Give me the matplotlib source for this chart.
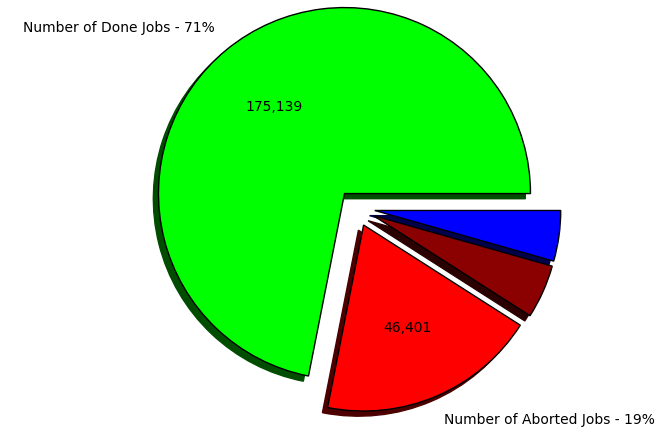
import matplotlib
matplotlib.use("Agg")
import matplotlib.pyplot as plt

# Job counts
job_types = ["Done", "Aborted", "Other", "Cancelled"]
job_counts = [175139, 46401, 11360, 10690]
labels = ["Number of Done Jobs - 71%", "Number of Aborted Jobs - 19%", "", ""]
colors = ["#00ff00", "#ff0000", "#8b0000", "#0000ff"]
explode = [0.1, 0.1, 0.1, 0.1]

total = sum(job_counts)


def show_count(pct):
    # only the big slices get their count printed
    if pct < 10:
        return ""
    return "{:,}".format(int(round(pct * total / 100.0)))


fig = plt.figure(figsize=(6.64, 4.29), dpi=100)
ax = fig.add_axes([0, 0, 1, 1])

wedges, texts, autotexts = ax.pie(
    job_counts,
    labels=labels,
    colors=colors,
    explode=explode,
    autopct=show_count,
    shadow={"ox": -0.02, "oy": -0.02, "shade": 0.7, "alpha": 1.0},
    startangle=0,
    wedgeprops={"edgecolor": "black", "linewidth": 1},
    textprops={"fontsize": 10},
)

# small nudges so the outer labels sit like the original
x, y = texts[0].get_position()
texts[0].set_position((x, y + 0.04))
x, y = texts[1].get_position()
texts[1].set_position((x, y - 0.039))

# pixel scale ~186 px per unit radius, centre placed as in the original
ax.set_xlim(-1.9156, 1.6543)
ax.set_ylim(-1.1886, 1.1179)
ax.set_aspect("equal")
ax.axis("off")

fig.savefig("out.png", dpi=100)
